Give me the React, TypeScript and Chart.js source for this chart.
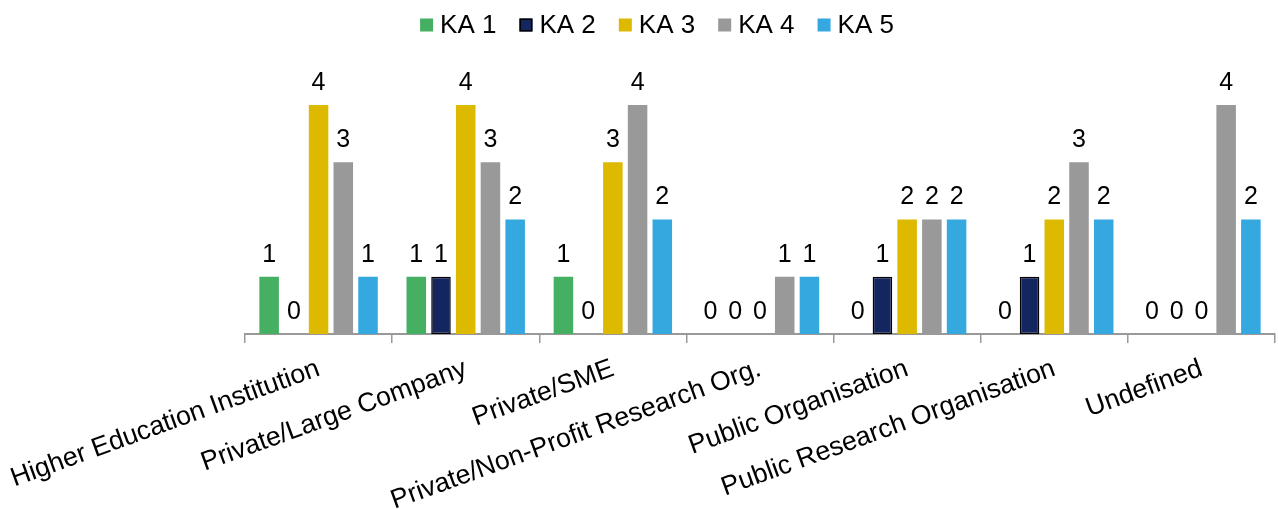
import React, { useEffect, useRef } from "react";
import { Chart, registerables } from "chart.js";
Chart.register(...registerables);

const categories = [
  "Higher Education Institution",
  "Private/Large Company",
  "Private/SME",
  "Private/Non-Profit Research Org.",
  "Public Organisation",
  "Public Research Organisation",
  "Undefined",
];
const seriesNames = ["KA 1", "KA 2", "KA 3", "KA 4", "KA 5"];
const ka1 = [1, 1, 1, 0, 0, 0, 0];
const ka2 = [0, 1, 0, 0, 1, 1, 0];
const ka3 = [4, 4, 3, 0, 2, 2, 0];
const ka4 = [3, 3, 4, 1, 2, 3, 4];
const ka5 = [1, 2, 2, 1, 2, 2, 2];
const seriesValues = [ka1, ka2, ka3, ka4, ka5];
const seriesColors = ["#45AF62", "#14265F", "#DDB900", "#999999", "#35A8E0"];
const seriesBorders = [0, 1.5, 0, 0, 0];

const FONT = '"Liberation Sans", Arial, sans-serif';
const LEGEND_FONT = 26;
const LABEL_FONT = 25;
const AXIS_FONT = 26.7;
const LEGEND_CENTER_X = 657;
const LEGEND_CENTER_Y = 25;

const legendPlugin = {
  id: "customLegend",
  afterDraw(chart: any) {
    const ctx = chart.ctx;
    ctx.save();
    ctx.font = `${LEGEND_FONT}px ${FONT}`;
    const box = 13, gap = 7, spacing = 23;
    const items = seriesNames.map((t, i) => ({ t, i, w: ctx.measureText(t).width }));
    const total = items.reduce((s, it) => s + box + gap + it.w, 0) + spacing * (items.length - 1);
    let x = LEGEND_CENTER_X - total / 2;
    items.forEach((it) => {
      const top = LEGEND_CENTER_Y - box / 2;
      ctx.fillStyle = seriesColors[it.i];
      ctx.fillRect(x, top, box, box);
      if (seriesBorders[it.i]) {
        ctx.strokeStyle = "#000";
        ctx.lineWidth = 1.5;
        ctx.strokeRect(x + 0.75, top + 0.75, box - 1.5, box - 1.5);
      }
      ctx.fillStyle = "#000";
      ctx.textAlign = "left";
      ctx.textBaseline = "middle";
      ctx.fillText(it.t, x + box + gap, LEGEND_CENTER_Y + 1);
      x += box + gap + it.w + spacing;
    });
    ctx.restore();
  },
};

const valueLabelPlugin = {
  id: "valueLabels",
  afterDatasetsDraw(chart: any) {
    const ctx = chart.ctx;
    ctx.save();
    ctx.font = `${LABEL_FONT}px ${FONT}`;
    ctx.fillStyle = "#000";
    ctx.textAlign = "center";
    ctx.textBaseline = "alphabetic";
    chart.data.datasets.forEach((ds: any, di: number) => {
      const meta = chart.getDatasetMeta(di);
      meta.data.forEach((el: any, i: number) => {
        ctx.fillText(String(ds.data[i]), el.x, el.y - 15);
      });
    });
    ctx.restore();
  },
};

export default function App() {
  const ref = useRef<HTMLCanvasElement | null>(null);
  useEffect(() => {
    if (!ref.current) return;
    const chart = new Chart(ref.current, {
      type: "bar",
      data: {
        labels: categories,
        datasets: seriesNames.map((name, i) => ({
          label: name,
          data: seriesValues[i],
          backgroundColor: seriesColors[i],
          borderColor: "#000",
          borderWidth: (c: any) => (c.raw === 0 ? 0 : seriesBorders[i]),
          borderSkipped: false,
          categoryPercentage: 0.84,
          barPercentage: 0.79,
        })),
      },
      options: {
        responsive: false,
        animation: false,
        devicePixelRatio: 1,
        layout: { padding: { top: 105, left: 245, right: 3, bottom: -18 } },
        plugins: { legend: { display: false }, tooltip: { enabled: false } },
        scales: {
          y: { display: false, min: 0, max: 4 },
          x: {
            afterFit: (scale: any) => {
              scale.paddingLeft = 0;
              scale.paddingRight = 0;
            },
            border: { color: "#999999", width: 2 },
            grid: {
              display: true,
              drawOnChartArea: false,
              drawTicks: true,
              tickLength: 9,
              color: "#999999",
              lineWidth: 1.5,
              offset: true,
            },
            ticks: {
              autoSkip: false,
              minRotation: 20,
              maxRotation: 20,
              color: "#000",
              padding: 10,
              font: { size: AXIS_FONT, family: FONT },
            },
          },
        },
      },
      plugins: [valueLabelPlugin, legendPlugin],
    });
    return () => chart.destroy();
  }, []);
  return (
    <div style={{ position: "absolute", left: 0, top: 0, width: 1278, height: 509, background: "#fff" }}>
      <canvas ref={ref} width={1278} height={509} />
    </div>
  );
}
